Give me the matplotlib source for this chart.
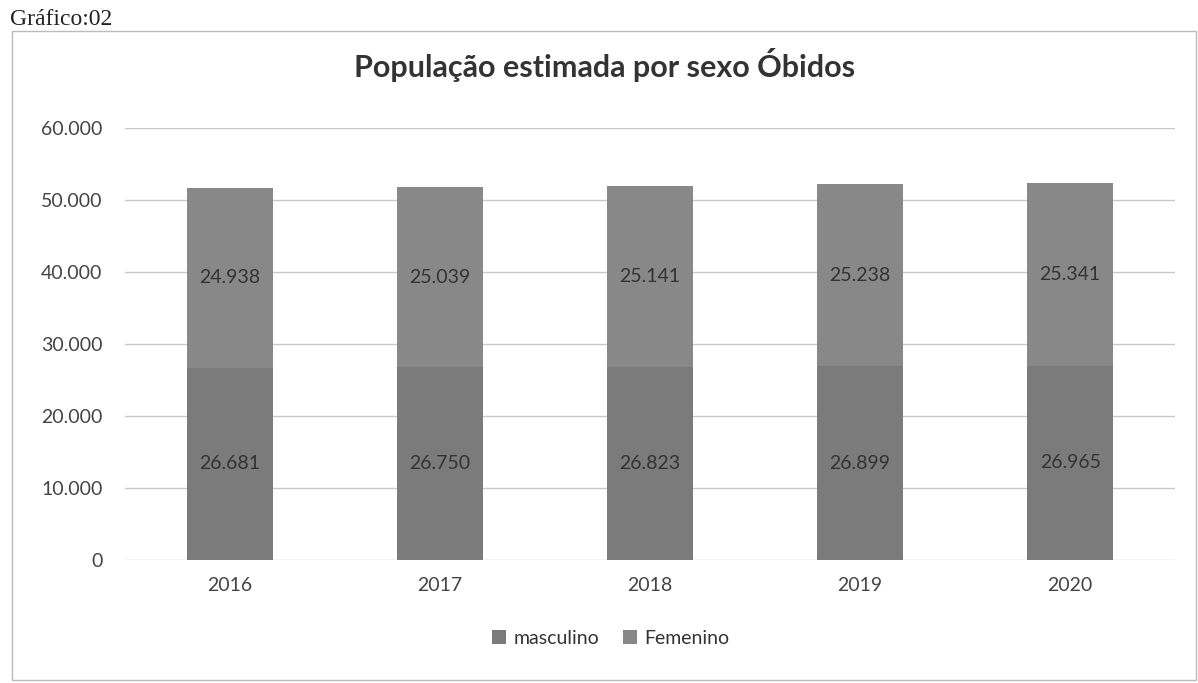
import matplotlib

matplotlib.use("Agg")
import matplotlib.pyplot as plt
from matplotlib.patches import Rectangle
import numpy as np

years = ["2016", "2017", "2018", "2019", "2020"]
masculino = [26681, 26750, 26823, 26899, 26965]
femenino = [24938, 25039, 25141, 25238, 25341]
yticks = [0, 10000, 20000, 30000, 40000, 50000, 60000]

plt.rcParams["font.family"] = ["Lato", "DejaVu Sans"]

fig = plt.figure(figsize=(11.98, 6.83), dpi=100)
ax = fig.add_axes([0.104, 0.180, 0.877, 0.633])

x = np.arange(len(years))
masc = np.array(masculino)
fem = np.array(femenino)
w = 0.41
b1 = ax.bar(x, masc, w, color="#7b7b7b", label="masculino", zorder=3)
b2 = ax.bar(x, fem, w, bottom=masc, color="#888888", label="Femenino", zorder=3)

def fmt(v):
    return f"{v:,}".replace(",", ".")

for i in range(len(years)):
    ax.text(x[i], masc[i] / 2, fmt(masc[i]), ha="center", va="center",
            fontsize=14, color="#333333", zorder=4)
    ax.text(x[i], masc[i] + fem[i] / 2, fmt(fem[i]), ha="center", va="center",
            fontsize=14, color="#333333", zorder=4)

ax.set_xlim(-0.5, len(years) - 0.5)
ax.set_ylim(0, 60000)
ax.set_yticks(yticks)
ax.set_yticklabels([fmt(v) for v in yticks], fontsize=14, color="#444444")
ax.set_xticks(x)
ax.set_xticklabels(years, fontsize=14, color="#444444")
ax.tick_params(length=0, pad=12)
ax.tick_params(axis="y", pad=16)
ax.grid(axis="y", color="#c8c8c8", lw=1, zorder=0)
for s in ax.spines.values():
    s.set_visible(False)

fig.text(0.505, 0.905, "População estimada por sexo Óbidos", ha="center",
         va="center", fontsize=22, fontweight="bold", color="#333333")
fig.text(0.008, 0.972, "Gráfico:02", ha="left", va="center", fontsize=17,
         family=["Liberation Serif", "DejaVu Serif"], color="#222222")

fig.legend(handles=[b1, b2], loc="center", bbox_to_anchor=(0.51, 0.065),
           ncol=2, frameon=False, fontsize=14, handlelength=0.7,
           handleheight=0.7, columnspacing=1.2, handletextpad=0.4,
           labelcolor="#333333")

fig.add_artist(Rectangle((0.010, 0.005), 0.988, 0.950, transform=fig.transFigure,
                         fill=False, edgecolor="#bbbbbb", lw=1))

fig.savefig("out.png", dpi=100)
